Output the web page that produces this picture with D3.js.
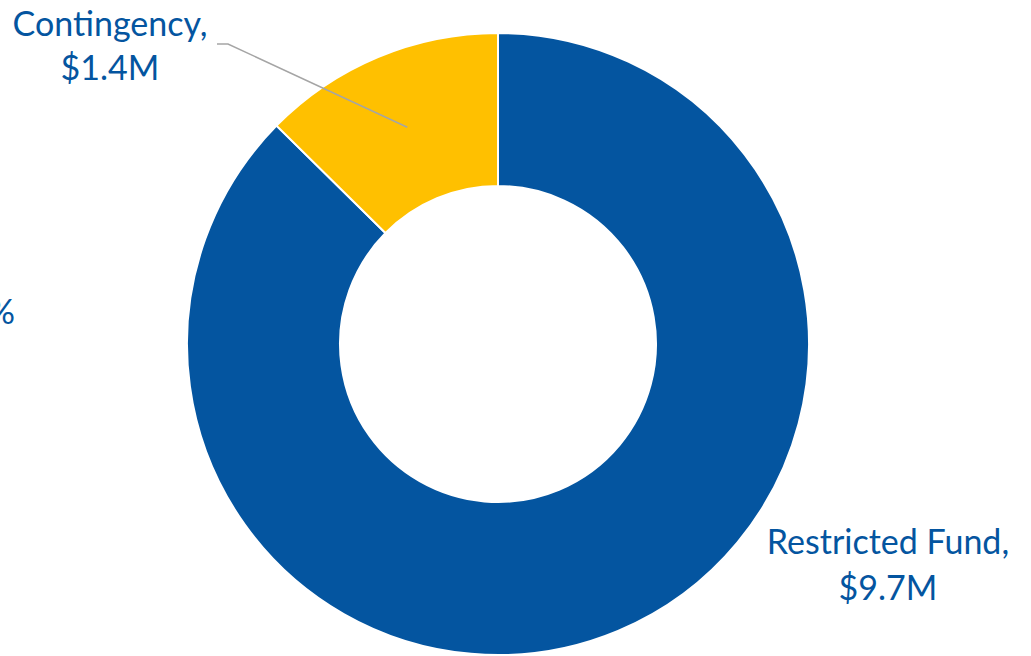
<!DOCTYPE html>
<html>
<head>
<meta charset="utf-8">
<script src="https://cdn.jsdelivr.net/npm/d3@7"></script>
<style>
  body { margin: 0; background: #fff; }
  text { font-family: Lato, "Open Sans", sans-serif; fill: #0455A0; }
</style>
</head>
<body>
<div id="chart"></div>
<script>
// slice data
var categories = ["Restricted Fund", "Contingency"];
var values = [9.7, 1.4];
var valueLabels = ["$9.7M", "$1.4M"];
var colors = ["#0455A0", "#FFC000"];

var width = 1031, height = 656;
var cx = 498, cy = 344, outerR = 311, innerR = 158;

var svg = d3.select("#chart")
  .append("svg")
    .attr("width", width)
    .attr("height", height);

var data = categories.map(function(c, i) { return {name: c, val: values[i], label: valueLabels[i], color: colors[i]}; });

var pie = d3.pie()
  .sort(null)
  .value(function(d) { return d.val; });

var arc = d3.arc()
  .innerRadius(innerR)
  .outerRadius(outerR);

var g = svg.append("g")
  .attr("transform", "translate(" + cx + "," + cy + ")");

var arcs = pie(data);

g.selectAll("path")
  .data(arcs)
  .enter().append("path")
    .attr("d", arc)
    .attr("fill", function(d) { return d.data.color; })
    .attr("stroke", "#fff")
    .attr("stroke-width", 2);

// leader line for the contingency label
var cont = arcs[1];
var mid = (cont.startAngle + cont.endAngle) / 2;
var rIn = 235;
var px = Math.sin(mid) * rIn, py = -Math.cos(mid) * rIn;
g.append("polyline")
  .attr("points", [[217 - cx, 44 - cy], [228 - cx, 44 - cy], [px, py]].map(function(p) { return p.join(","); }).join(" "))
  .attr("fill", "none")
  .attr("stroke", "#A5A5A5")
  .attr("stroke-width", 1.5);

// labels
var labelPos = [
  {x: 888, y: 554},
  {x: 110, y: 36}
];
var lineGap = [46, 44];

data.forEach(function(d, i) {
  var t = svg.append("text")
    .attr("text-anchor", "middle")
    .style("font-size", "34px");
  t.append("tspan")
    .attr("x", labelPos[i].x)
    .attr("y", labelPos[i].y)
    .text(d.name + ",");
  t.append("tspan")
    .attr("x", labelPos[i].x)
    .attr("y", labelPos[i].y + lineGap[i])
    .text(d.label);
});

// cut-off label from the left edge
svg.append("text")
  .attr("x", 15)
  .attr("y", 324)
  .attr("text-anchor", "end")
  .style("font-size", "34px")
  .text("%");
</script>
</body>
</html>
